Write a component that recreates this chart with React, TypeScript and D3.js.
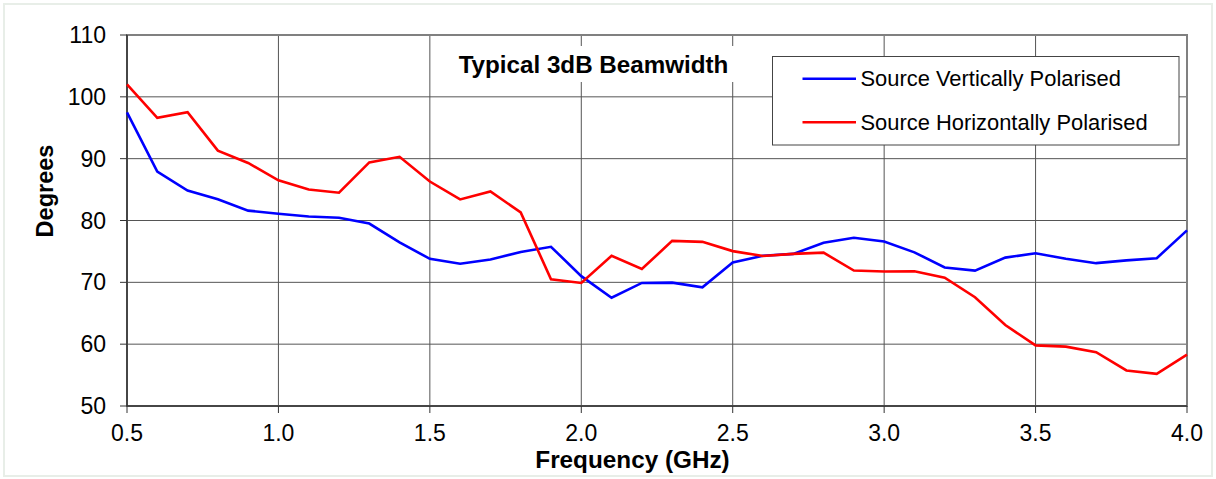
import React from "react";
import * as d3 from "d3";

const freqs = [0.5,0.6,0.7,0.8,0.9,1.0,1.1,1.2,1.3,1.4,1.5,1.6,1.7,1.8,1.9,2.0,2.1,2.2,2.3,2.4,2.5,2.6,2.7,2.8,2.9,3.0,3.1,3.2,3.3,3.4,3.5,3.6,3.7,3.8,3.9,4.0];
const vertical = [97.5,87.9,84.85,83.45,81.6,81.1,80.65,80.45,79.5,76.45,73.8,73.0,73.7,74.9,75.75,71.0,67.5,69.9,69.95,69.2,73.2,74.3,74.6,76.4,77.2,76.6,74.85,72.4,71.9,74.0,74.7,73.8,73.1,73.55,73.9,78.4];
const horizontal = [102.0,96.6,97.5,91.3,89.3,86.5,85.0,84.5,89.4,90.3,86.3,83.4,84.7,81.3,70.5,69.9,74.3,72.15,76.7,76.55,75.05,74.25,74.6,74.8,71.9,71.75,71.8,70.75,67.6,63.1,59.8,59.6,58.7,55.75,55.2,58.3];
const xTicks = [0.5,1.0,1.5,2.0,2.5,3.0,3.5,4.0];
const yTicks = [50,60,70,80,90,100,110];
const seriesNames = ["Source Vertically Polarised","Source Horizontally Polarised"];
const seriesColors = ["#0000FF","#FF0000"];
const title = "Typical 3dB Beamwidth";
const xTitle = "Frequency (GHz)";
const yTitle = "Degrees";

const W = 1216, H = 479;
const L = 127, R = 1187, T = 35, B = 406;
const FONT = "'Liberation Sans', Arial, sans-serif";

export default function App() {
  const x = d3.scaleLinear().domain([0.5, 4.0]).range([L, R]);
  const y = d3.scaleLinear().domain([50, 110]).range([B, T]);
  const line = d3.line<number>().x((_, i) => x(freqs[i])).y((d) => y(d));
  const series = [vertical, horizontal];
  return (
    <svg width={W} height={H} style={{ position: "absolute", left: 0, top: 0, background: "#fff" }} fontFamily={FONT}>
      <rect x={4} y={4} width={1208} height={472} fill="#fff" stroke="#e8eee8" strokeWidth={2} />
      {/* gridlines */}
      {yTicks.map((t) => (
        <line key={"gy" + t} x1={L} x2={R} y1={y(t)} y2={y(t)} stroke="#555" strokeWidth={1} />
      ))}
      {xTicks.map((t) => (
        <line key={"gx" + t} x1={x(t)} x2={x(t)} y1={T} y2={B} stroke="#555" strokeWidth={1} />
      ))}
      {/* plot border */}
      <rect x={L} y={T} width={R - L} height={B - T} fill="none" stroke="#808080" strokeWidth={2} />
      {/* axes */}
      <line x1={L} x2={L} y1={T} y2={B} stroke="#333" strokeWidth={1.5} />
      <line x1={L} x2={R} y1={B} y2={B} stroke="#333" strokeWidth={1.5} />
      {yTicks.map((t) => (
        <g key={"ty" + t}>
          <line x1={L - 7} x2={L} y1={y(t)} y2={y(t)} stroke="#333" strokeWidth={1} />
          <text x={106} y={y(t)} dy="0.35em" textAnchor="end" fontSize={23} fill="#000">{t}</text>
        </g>
      ))}
      {xTicks.map((t) => (
        <g key={"tx" + t}>
          <line x1={x(t)} x2={x(t)} y1={B} y2={B + 7} stroke="#333" strokeWidth={1} />
          <text x={x(t)} y={440.5} textAnchor="middle" fontSize={23} fill="#000">{t.toFixed(1)}</text>
        </g>
      ))}
      {/* series */}
      {series.map((s, i) => (
        <path key={"s" + i} d={line(s) || ""} fill="none" stroke={seriesColors[i]} strokeWidth={2.6} strokeLinejoin="miter" />
      ))}
      {/* title */}
      <rect x={449} y={46} width={290} height={36} fill="#fff" />
      <text x={593.5} y={73.3} textAnchor="middle" fontSize={24.2} fontWeight="bold" fill="#000">{title}</text>
      {/* legend */}
      <rect x={772.5} y={56.5} width={406.5} height={88.5} fill="#fff" stroke="#444" strokeWidth={1} />
      {seriesNames.map((n, i) => (
        <g key={"lg" + i}>
          <line x1={802.5} x2={856} y1={78.7 + i * 43.6} y2={78.7 + i * 43.6} stroke={seriesColors[i]} strokeWidth={2.6} />
          <text x={860.5} y={78.7 + i * 43.6} dy="0.35em" fontSize={21.9} fill="#000">{n}</text>
        </g>
      ))}
      {/* axis titles */}
      <text x={632.5} y={468} textAnchor="middle" fontSize={24.3} fontWeight="bold" fill="#000">{xTitle}</text>
      <text transform={`translate(52.5,191) rotate(-90)`} textAnchor="middle" fontSize={23.5} fontWeight="bold" fill="#000">{yTitle}</text>
    </svg>
  );
}
